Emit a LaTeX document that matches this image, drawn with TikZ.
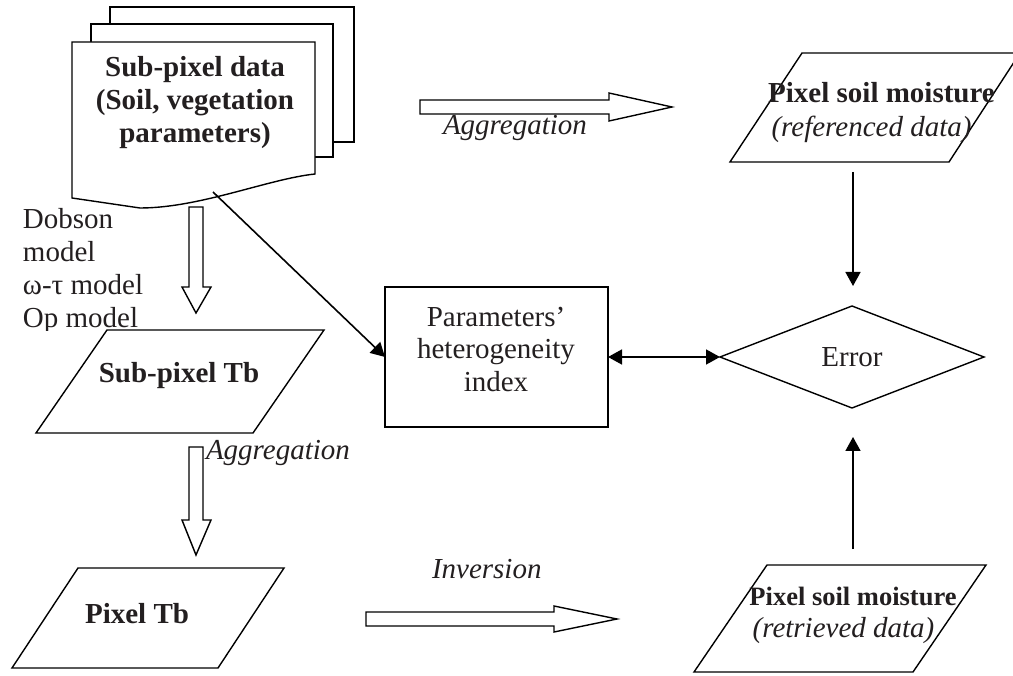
\documentclass[tikz,border=0pt]{standalone}
\usepackage{fontspec}
\setmainfont{Liberation Serif}
\usetikzlibrary{arrows.meta,shapes.geometric}
\definecolor{ink}{RGB}{35,31,32}
\begin{document}
\begin{tikzpicture}[x=1pt,y=-1pt,
  every node/.style={text=ink, inner sep=0pt, outer sep=0pt},
  txt/.style={font=\fontsize{29}{33}\selectfont},
  bf/.style={font=\fontsize{29}{33}\selectfont\bfseries},
  it/.style={font=\fontsize{29}{33}\selectfont\itshape},
  shapeline/.style={draw=black, fill=white, line width=1.4pt, line join=miter},
  conn/.style={draw=black, line width=1.6pt, -{Triangle[length=14pt,width=15pt]}},
  dconn/.style={draw=black, line width=1.6pt, {Triangle[length=14pt,width=15pt]}-{Triangle[length=14pt,width=15pt]}},
  blockarrow/.style={draw=black, fill=white, line width=1.4pt, line join=miter}]
\useasboundingbox (0,0) rectangle (1013,676);
\clip (0,0) rectangle (1013,676);

% stacked documents
\path[shapeline] (110,7) rectangle (354,142);
\path[shapeline] (91,24) rectangle (333,157);
\path[shapeline] (72,42) -- (315,42) -- (315,174)
   .. controls (268,179) and (200,208) .. (140,208) -- (72,198) -- cycle;
\coordinate (wave) at (213,192);
\node (doc) [bf, align=center, anchor=base] at (195,143) {Sub-pixel data\\(Soil, vegetation\\parameters)};

% model list (clipped by the parallelogram top)
\begin{scope}
  \clip (0,180) rectangle (300,331);
  \node (models) [txt, align=left, anchor=base west] at (23,328) {Dobson\\model\\ω-τ model\\Op model};
\end{scope}

% block arrow 1 (down)
\path[blockarrow] (189,207) -- (203,207) -- (203,287) -- (211,287) -- (196,313) -- (182,287) -- (189,287) -- cycle;

% Sub-pixel Tb
\path[shapeline] (107,330) -- (324,330) -- (253,433) -- (36,433) -- cycle;
\node (subtb) [bf, anchor=base] at (179,383) {Sub-pixel Tb};

% block arrow 2 (down)
\path[blockarrow] (189,447) -- (203,447) -- (203,520) -- (211,520) -- (196,555) -- (182,520) -- (189,520) -- cycle;
\node (agg2) [it, anchor=base west] at (206,460) {Aggregation};

% Pixel Tb
\path[shapeline] (78,568) -- (284,568) -- (218,668) -- (12,668) -- cycle;
\node (pixtb) [bf, anchor=base] at (137,623) {Pixel Tb};

% top aggregation arrow
\path[blockarrow] (420,100) -- (609,100) -- (609,93) -- (672,107) -- (609,121) -- (609,114) -- (420,114) -- cycle;
\node (agg1) [it, anchor=base west] at (443,135) {Aggregation};

% inversion arrow
\path[blockarrow] (366,612) -- (554,612) -- (554,606) -- (617,619) -- (554,632) -- (554,626) -- (366,626) -- cycle;
\node (inv) [it, anchor=base west] at (432,578) {Inversion};

% referenced pixel soil moisture
\path[shapeline] (802,53) -- (1020,53) -- (949,162) -- (730,162) -- cycle;
\node (refA) [bf, anchor=base] at (881.5,103) {Pixel soil moisture};
\node (refB) [it, anchor=base] at (871.5,137) {(referenced data)};
\coordinate (refout) at (853,172);
\coordinate (errin1) at (853,286);

% Error diamond
\node (err) [diamond, shapeline, minimum width=264pt, minimum height=102pt, txt] at (852,357) {Error};

% heterogeneity index box
\node (param) [shapeline, rectangle, minimum width=223pt, minimum height=140pt] at (496.5,357) {};
\node (paramtxt) [txt, align=center, anchor=base] at (496,392) {Parameters’\\heterogeneity\\index};

% retrieved pixel soil moisture
\path[shapeline] (767,565) -- (986,565) -- (913,672) -- (694,672) -- cycle;
\node (retA) [font=\fontsize{26.5}{30}\selectfont\bfseries, anchor=base] at (853,605) {Pixel soil moisture};
\node (retB) [it, anchor=base] at (843.5,637) {(retrieved data)};
\coordinate (retout) at (853,549);
\coordinate (errin2) at (853,437);

% connectors
\draw[conn] (refout) -- (errin1);
\draw[conn] (retout) -- (errin2);
\draw[dconn] (param.east) -- (err.west);
\draw[conn] (wave) -- (param.west);
\end{tikzpicture}
\end{document}
